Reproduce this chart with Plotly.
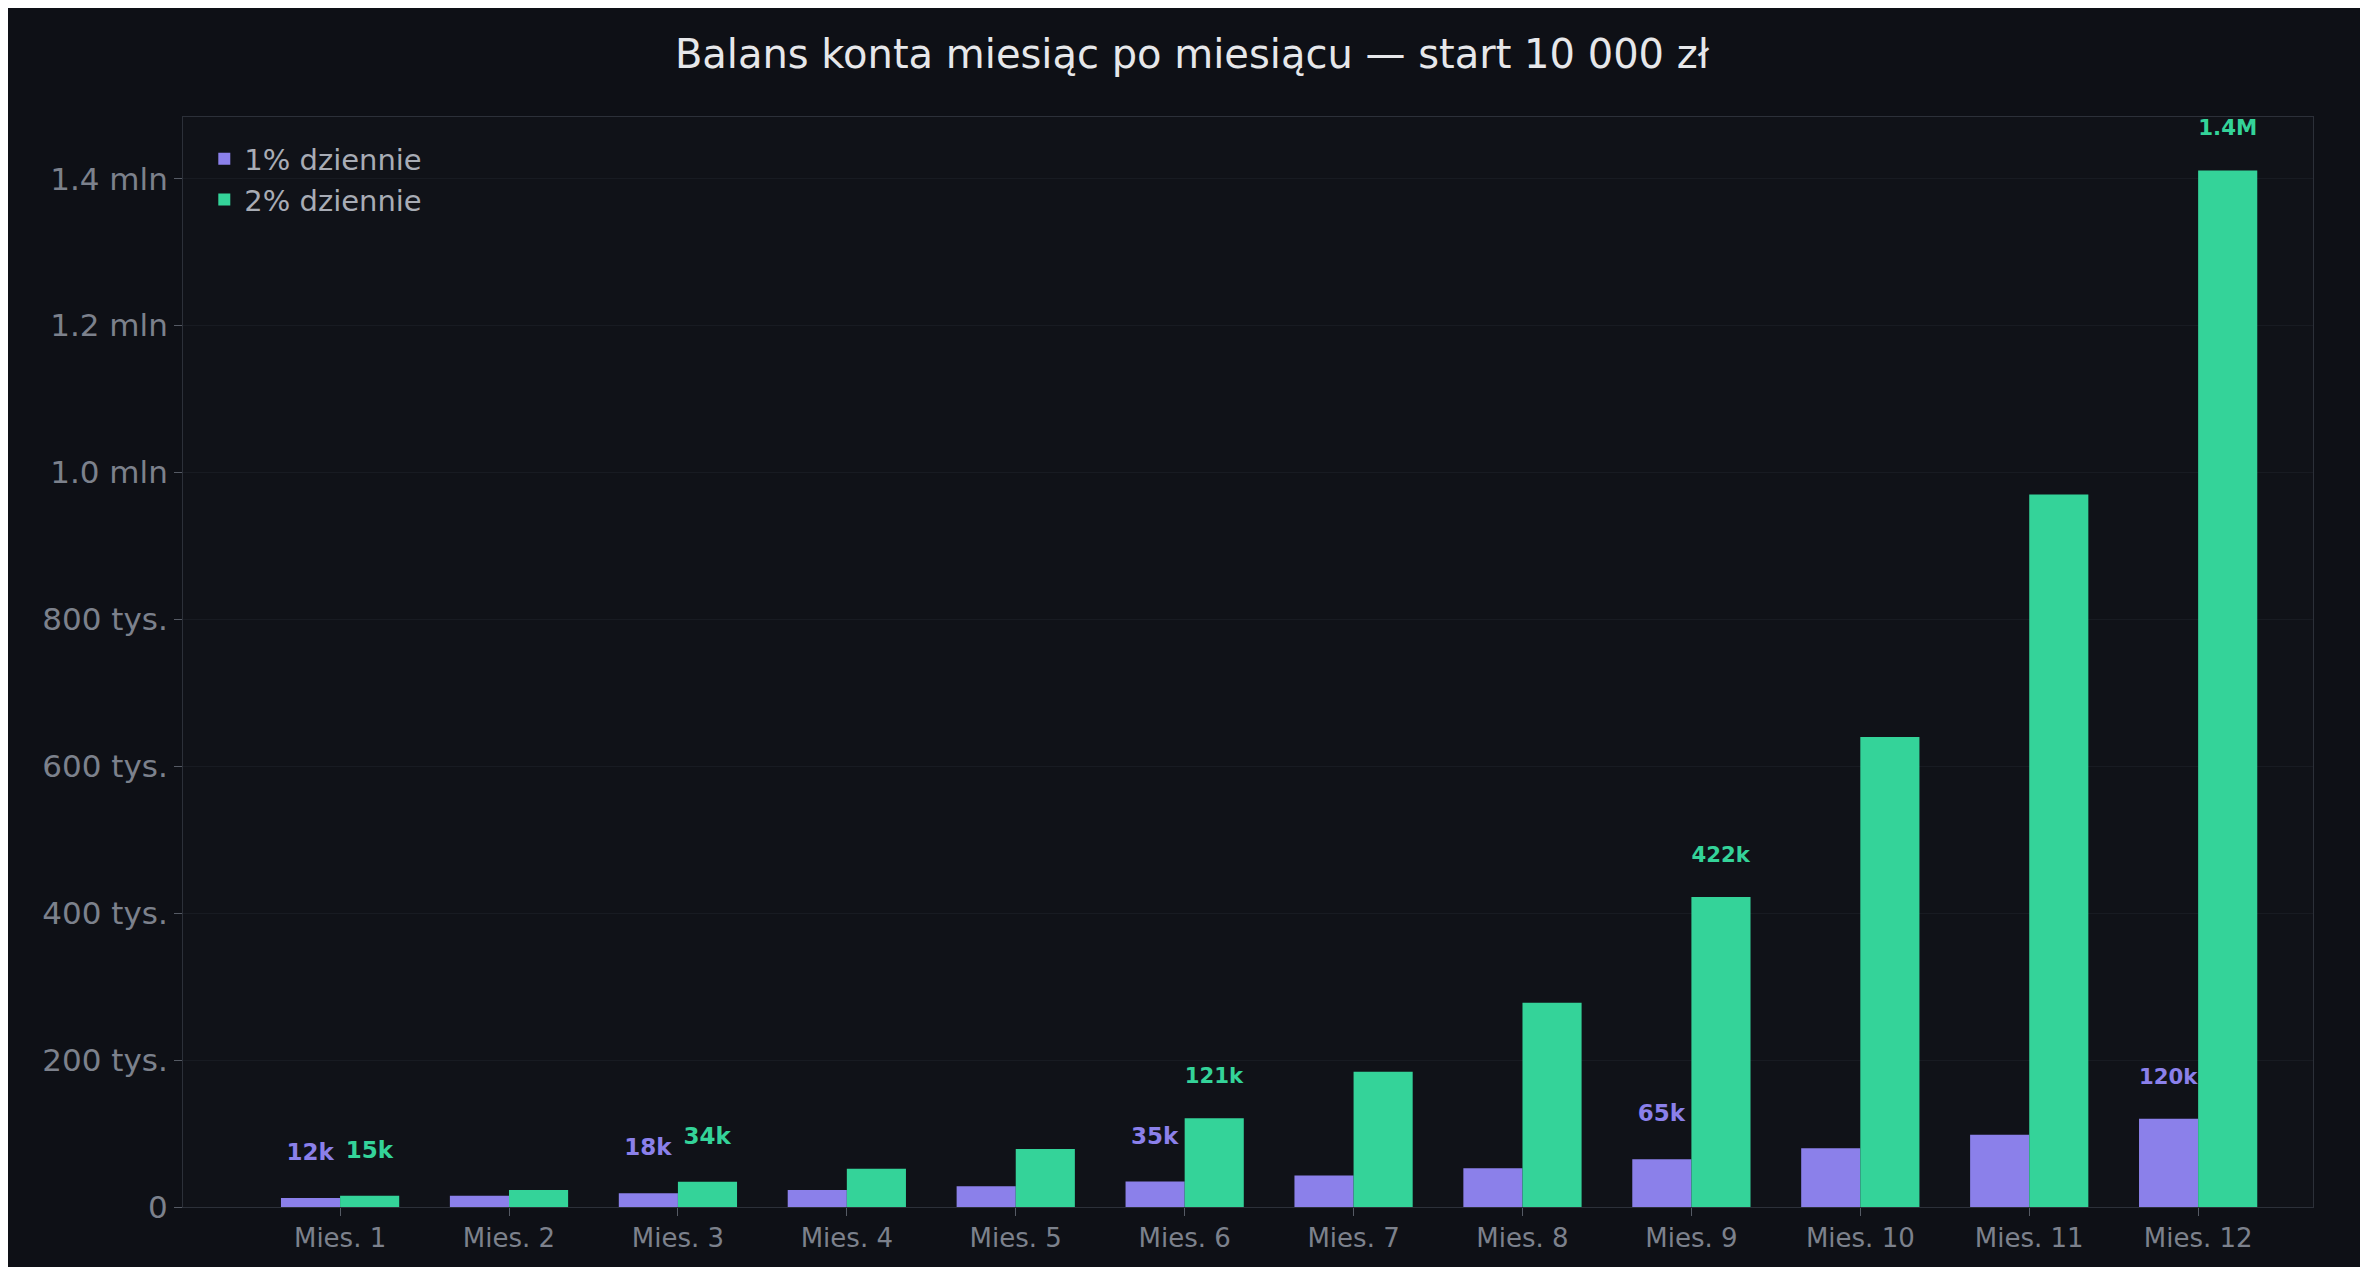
import plotly.graph_objects as go

months = [f"Mies. {i}" for i in range(1, 13)]
bal_1pct = [12300, 15200, 18600, 23000, 28300, 34800, 42900, 52800, 65000, 80000, 98500, 120000]
bal_2pct = [15200, 23000, 34400, 52000, 79000, 121000, 184000, 278000, 422000, 640000, 970000, 1411000]
lbl_1pct = ["12k", "", "18k", "", "", "35k", "", "", "65k", "", "", "120k"]
lbl_2pct = ["15k", "", "34k", "", "", "121k", "", "", "422k", "", "", "1.4M"]
y_ticks = [0, 200000, 400000, 600000, 800000, 1000000, 1200000, 1400000]
y_tick_text = ["0", "200 tys.", "400 tys.", "600 tys.", "800 tys.", "1.0 mln", "1.2 mln", "1.4 mln"]

purple = "#8b80ea"
green = "#34d399"

fig = go.Figure()
for name, vals, lbls, col in [("1% dziennie", bal_1pct, lbl_1pct, purple),
                              ("2% dziennie", bal_2pct, lbl_2pct, green)]:
    fig.add_trace(go.Bar(x=months, y=vals, name=name, marker_color=col, marker_line_width=0,
                         text=lbls, textposition="outside", cliponaxis=False,
                         textfont=dict(color=col, size=23, family="DejaVu Sans"),
                         texttemplate="<b>%{text}</b><br> "))

fig.update_layout(
    width=2368, height=1267,
    paper_bgcolor="#0e1016", plot_bgcolor="#101218",
    font=dict(family="DejaVu Sans", color="#7c818c", size=28),
    title=dict(text="Balans konta miesiąc po miesiącu — start 10 000 zł",
               x=0.5, xanchor="center", y=0.975, yanchor="top",
               font=dict(size=40, color="#e6e7ea")),
    margin=dict(l=175, r=63, t=109, b=68),
    barmode="group", bargap=0.3, bargroupgap=0,
    legend=dict(x=0.01, y=0.985, xanchor="left", yanchor="top",
                bgcolor="rgba(0,0,0,0)", font=dict(size=29, color="#a8acb5")),
)
fig.update_xaxes(range=[-0.93, 11.68], showgrid=False, ticks="outside", ticklen=8,
                 tickcolor="#555a64", tickfont=dict(size=26, color="#7c818c"),
                 showline=True, linecolor="#2c3039", mirror=True)
fig.update_yaxes(range=[0, 1484000], tickvals=y_ticks, ticktext=y_tick_text,
                 gridcolor="#181b22", zeroline=False, ticks="outside", ticklen=8,
                 tickcolor="#555a64", tickfont=dict(size=31, color="#7c818c"),
                 showline=True, linecolor="#2c3039", mirror=True)

fig.write_html("out.html")
